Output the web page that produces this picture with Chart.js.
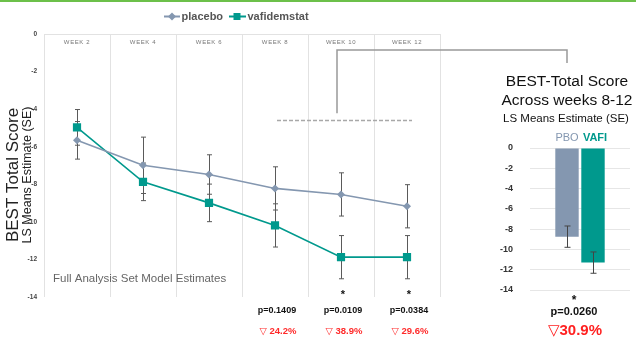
<!DOCTYPE html>
<html><head><meta charset="utf-8">
<script src="https://cdn.jsdelivr.net/npm/chart.js@4.4.1/dist/chart.umd.min.js"></script>
<style>
html,body{margin:0;padding:0;background:#fff;}
#wrap{position:relative;width:636px;height:338px;overflow:hidden;background:#fff;}
canvas{position:absolute;left:0;top:0;}
#topline{position:absolute;left:0;top:0;width:636px;height:2px;background:#6cc04a;z-index:3;}
</style></head><body>
<div id="wrap"><div id="topline"></div>
<canvas id="c1" width="636" height="338"></canvas>
<canvas id="c2" width="636" height="338"></canvas></div>
<script>
// ---- data ----
const weeks = ['WEEK 2','WEEK 4','WEEK 6','WEEK 8','WEEK 10','WEEK 12'];
const placebo   = [-5.66,-6.99,-7.48,-8.22,-8.54,-9.17];
const placeboSE = [1.0, 1.5, 1.05, 1.15, 1.15, 1.15];
const vafi      = [-4.97,-7.87,-8.99,-10.19,-11.88,-11.88];
const vafiSE    = [0.95, 1.0, 1.0, 1.15, 1.15, 1.15];
const yTicks = [0,-2,-4,-6,-8,-10,-12,-14];
const pValues = ['','','','p=0.1409','p=0.0109','p=0.0384'];
const reductions = ['','','','24.2%','38.9%','29.6%'];
const stars = ['','','','','*','*'];
const barLabels = ['PBO','VAFI'];
const barValues = [-8.74,-11.3];
const barSE = [1.05,1.05];
const barP = 'p=0.0260';
const barReduction = '30.9%';

const C_PBO = '#8497b0', C_VAFI = '#00998d';
const FF = '"Liberation Sans", Arial, "DejaVu Sans", sans-serif';

function drawErrBars(chart, sets, cap, color){
  const ctx = chart.ctx, ys = chart.scales.y;
  ctx.save();
  ctx.strokeStyle = color; ctx.lineWidth = 1;
  sets.forEach(([di, vals, ses]) => {
    const meta = chart.getDatasetMeta(di);
    meta.data.forEach((el, j) => {
      const x = Math.round(el.x) + 0.5;
      const t = ys.getPixelForValue(vals[j] + ses[j]);
      const b = ys.getPixelForValue(vals[j] - ses[j]);
      ctx.beginPath();
      ctx.moveTo(x, t); ctx.lineTo(x, b);
      ctx.moveTo(x - cap, t); ctx.lineTo(x + cap, t);
      ctx.moveTo(x - cap, b); ctx.lineTo(x + cap, b);
      ctx.stroke();
    });
  });
  ctx.restore();
}

const leftPlugin = {
  id: 'leftDeco',
  beforeDatasetsDraw(chart){
    drawErrBars(chart, [[0, placebo, placeboSE],[1, vafi, vafiSE]], 2.5, '#5a5a5a');
  },
  afterDraw(chart){
    const ctx = chart.ctx, xs = chart.scales.x, ys = chart.scales.y, ca = chart.chartArea;
    ctx.save();
    // week labels
    ctx.fillStyle = '#777';
    ctx.font = '6px ' + FF;
    ctx.letterSpacing = '0.6px';
    ctx.textAlign = 'center'; ctx.textBaseline = 'middle';
    weeks.forEach((w, i) => ctx.fillText(w, xs.getPixelForValue(i), ca.top + 8));
    ctx.letterSpacing = '0px';
    // y titles
    ctx.save();
    ctx.translate(13, 175); ctx.rotate(-Math.PI/2);
    ctx.fillStyle = '#222'; ctx.font = '17px ' + FF;
    ctx.fillText('BEST Total Score', 0, 0);
    ctx.restore();
    ctx.save();
    ctx.translate(28, 175); ctx.rotate(-Math.PI/2);
    ctx.fillStyle = '#222'; ctx.font = '12.5px ' + FF;
    ctx.fillText('LS Means Estimate (SE)', 0, 0);
    ctx.restore();
    // legend
    ctx.lineWidth = 2;
    ctx.strokeStyle = C_PBO; ctx.fillStyle = C_PBO;
    ctx.beginPath(); ctx.moveTo(164, 16.5); ctx.lineTo(180, 16.5); ctx.stroke();
    ctx.beginPath(); ctx.moveTo(172, 12.5); ctx.lineTo(176, 16.5); ctx.lineTo(172, 20.5); ctx.lineTo(168, 16.5); ctx.closePath(); ctx.fill();
    ctx.strokeStyle = C_VAFI; ctx.fillStyle = C_VAFI;
    ctx.beginPath(); ctx.moveTo(229, 16.5); ctx.lineTo(246, 16.5); ctx.stroke();
    ctx.fillRect(233.5, 13, 7, 7);
    ctx.fillStyle = '#555'; ctx.font = 'bold 11px ' + FF; ctx.textAlign = 'left';
    ctx.fillText('placebo', 181.5, 17);
    ctx.fillText('vafidemstat', 247.5, 17);
    // dashed bracket
    ctx.strokeStyle = '#a8a8a8'; ctx.lineWidth = 1.5; ctx.setLineDash([4,2]);
    const yd = ys.getPixelForValue(-4.6);
    ctx.beginPath(); ctx.moveTo(xs.getPixelForValue(3) + 2, yd); ctx.lineTo(xs.getPixelForValue(5) + 5, yd); ctx.stroke();
    ctx.setLineDash([]);
    ctx.strokeStyle = '#999';
    const xStem = xs.getPixelForValue(4) - 4;
    ctx.beginPath(); ctx.moveTo(xStem, ys.getPixelForValue(-4.22)); ctx.lineTo(xStem, 50); ctx.lineTo(567, 50); ctx.lineTo(567, 63); ctx.stroke();
    // footnote
    ctx.fillStyle = '#666'; ctx.font = '11.5px ' + FF; ctx.textAlign = 'left'; ctx.textBaseline = 'middle';
    ctx.fillText('Full Analysis Set Model Estimates', 53, 279);
    // stars, p-values, reductions
    ctx.textAlign = 'center';
    weeks.forEach((w, i) => {
      const x = xs.getPixelForValue(i);
      if (stars[i]) { ctx.fillStyle = '#111'; ctx.font = 'bold 11px ' + FF; ctx.textBaseline = 'alphabetic'; ctx.fillText(stars[i], x + 2, 298); }
      ctx.textBaseline = 'middle';
      if (pValues[i]) { ctx.fillStyle = '#111'; ctx.font = 'bold 9px ' + FF; ctx.fillText(pValues[i], x + 2, 311); }
      if (reductions[i]) { ctx.fillStyle = '#ff2a2a'; ctx.font = 'bold 9.5px ' + FF; ctx.fillText('\u25BD ' + reductions[i], x + 3, 331); }
    });
    ctx.restore();
  }
};

new Chart(document.getElementById('c1'), {
  type: 'line',
  data: {
    labels: weeks,
    datasets: [
      { label: 'placebo', data: placebo, borderColor: C_PBO, backgroundColor: C_PBO, borderWidth: 1.6,
        pointStyle: 'rectRot', pointRadius: 4, pointBorderWidth: 0, tension: 0 },
      { label: 'vafidemstat', data: vafi, borderColor: C_VAFI, backgroundColor: C_VAFI, borderWidth: 1.6,
        pointStyle: 'rect', pointRadius: 5.8, pointBorderWidth: 0, tension: 0 }
    ]
  },
  options: {
    responsive: false, animation: false, devicePixelRatio: 1,
    layout: { padding: { left: 14, right: 196, top: 34, bottom: 41 } },
    plugins: { legend: { display: false }, tooltip: { enabled: false } },
    scales: {
      x: { type: 'category', position: 'top', offset: true,
           grid: { offset: true, color: '#e2e2e2', drawTicks: false },
           border: { display: true, color: '#e2e2e2' },
           ticks: { display: false } },
      y: { min: -14, max: 0, afterFit(s){ s.width = 30; },
           grid: { display: false, drawTicks: false }, border: { display: false },
           afterBuildTicks(s){ s.ticks = yTicks.map(v => ({ value: v })); },
           ticks: { padding: 7, color: '#444', font: { size: 6.5, weight: 'bold', family: FF } } }
    }
  },
  plugins: [leftPlugin]
});

const rightPlugin = {
  id: 'rightDeco',
  afterDatasetsDraw(chart){
    const ctx = chart.ctx, ys = chart.scales.y;
    ctx.save();
    ctx.strokeStyle = '#444'; ctx.lineWidth = 1;
    barValues.forEach((v, i) => {
      const el = chart.getDatasetMeta(i).data[0];
      const x = Math.round(el.x) + 0.5;
      const t = ys.getPixelForValue(v + barSE[i]), b = ys.getPixelForValue(v - barSE[i]);
      ctx.beginPath();
      ctx.moveTo(x, t); ctx.lineTo(x, b);
      ctx.moveTo(x - 3, t); ctx.lineTo(x + 3, t);
      ctx.moveTo(x - 3, b); ctx.lineTo(x + 3, b);
      ctx.stroke();
    });
    ctx.restore();
  },
  afterDraw(chart){
    const ctx = chart.ctx;
    ctx.save();
    ctx.textAlign = 'center'; ctx.textBaseline = 'middle';
    ctx.fillStyle = '#111';
    ctx.font = '15.5px ' + FF;
    ctx.fillText('BEST-Total Score', 567, 82);
    ctx.fillText('Across weeks 8-12', 567, 101);
    ctx.font = '11.5px ' + FF;
    ctx.fillText('LS Means Estimate (SE)', 566, 119);
    const e0 = chart.getDatasetMeta(0).data[0], e1 = chart.getDatasetMeta(1).data[0];
    ctx.font = '11px ' + FF; ctx.fillStyle = C_PBO;
    ctx.fillText(barLabels[0], e0.x, 138);
    ctx.font = 'bold 11px ' + FF; ctx.fillStyle = C_VAFI;
    ctx.fillText(barLabels[1], e1.x + 2, 138);
    const cx = (e0.x + e1.x) / 2 - 6;
    ctx.fillStyle = '#111'; ctx.font = 'bold 12px ' + FF; ctx.textBaseline = 'alphabetic';
    ctx.fillText('*', cx, 304);
    ctx.textBaseline = 'middle';
    ctx.font = 'bold 11px ' + FF;
    ctx.fillText(barP, cx, 312);
    ctx.fillStyle = '#ff2020'; ctx.font = 'bold 15px ' + FF;
    ctx.fillText('\u25BD' + barReduction, cx + 1, 331);
    ctx.restore();
  }
};

new Chart(document.getElementById('c2'), {
  type: 'bar',
  data: {
    labels: [''],
    datasets: [
      { label: barLabels[0], data: [barValues[0]], backgroundColor: C_PBO },
      { label: barLabels[1], data: [barValues[1]], backgroundColor: C_VAFI }
    ]
  },
  options: {
    responsive: false, animation: false, devicePixelRatio: 1,
    layout: { padding: { left: 490, right: 6, top: 148, bottom: 48 } },
    datasets: { bar: { categoryPercentage: 0.52, barPercentage: 0.9 } },
    plugins: { legend: { display: false }, tooltip: { enabled: false } },
    scales: {
      x: { display: false },
      y: { min: -14, max: 0, afterFit(s){ s.width = 40; },
           grid: { color: '#e6e6e6', drawTicks: false }, border: { display: false },
           afterBuildTicks(s){ s.ticks = yTicks.map(v => ({ value: v })); },
           ticks: { padding: 17, color: '#333', font: { size: 9, weight: 'bold', family: FF } } }
    }
  },
  plugins: [rightPlugin]
});
</script>
</body></html>
